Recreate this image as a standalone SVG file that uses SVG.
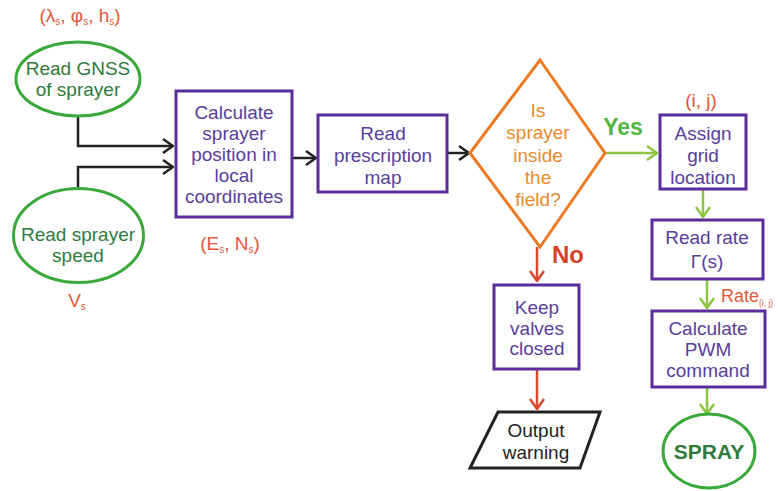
<svg xmlns="http://www.w3.org/2000/svg" width="778" height="491" viewBox="0 0 778 491">
<style>
text{font-family:"Liberation Sans",Arial,sans-serif;text-anchor:middle}
.node{font-size:19px}
.box{fill:none;stroke:#5b2d9a;stroke-width:3}
.boxt{fill:#5a3d9c}
.ell{fill:none;stroke:#3aa83a;stroke-width:3}
.ellt{fill:#2f7a3c}
.lab{fill:#e0593a;font-size:19px}
.blk{fill:none;stroke:#222;stroke-width:2.5}
.grn{fill:none;stroke:#8cc63f;stroke-width:2.5}
.red{fill:none;stroke:#d9482a;stroke-width:2.5}
</style>
<defs>
<marker id="ab" viewBox="0 0 12 16" refX="11" refY="8" markerWidth="12" markerHeight="16" markerUnits="userSpaceOnUse" orient="auto"><path d="M1,1 L11,8 L1,15" fill="none" stroke="#222" stroke-width="2.5"/></marker>
<marker id="ag" viewBox="0 0 12 16" refX="11" refY="8" markerWidth="12" markerHeight="16" markerUnits="userSpaceOnUse" orient="auto"><path d="M1,1 L11,8 L1,15" fill="none" stroke="#8cc63f" stroke-width="2.5"/></marker>
<marker id="ar" viewBox="0 0 12 16" refX="11" refY="8" markerWidth="12" markerHeight="16" markerUnits="userSpaceOnUse" orient="auto"><path d="M1,1 L11,8 L1,15" fill="none" stroke="#d9482a" stroke-width="2.5"/></marker>
</defs>
<rect width="778" height="491" fill="#fff"/>
<g id="connectors">
<path class="blk" d="M78,116 V146 H173" marker-end="url(#ab)"/>
<path class="blk" d="M78,188 V167 H173" marker-end="url(#ab)"/>
<path class="blk" d="M292,158 H316" marker-end="url(#ab)"/>
<path class="blk" d="M447,153 H469" marker-end="url(#ab)"/>
<path class="grn" d="M605,153 H657" marker-end="url(#ag)"/>
<path class="grn" d="M703,189 V217" marker-end="url(#ag)"/>
<path class="grn" d="M707,279 V308" marker-end="url(#ag)"/>
<path class="grn" d="M707,387 V414" marker-end="url(#ag)"/>
<path class="red" d="M537,247 V281" marker-end="url(#ar)"/>
<path class="red" d="M537,369 V409" marker-end="url(#ar)"/>
<text x="623" y="135" style="font-size:23px;font-weight:bold;fill:#52b540">Yes</text>
<text x="568" y="263" style="font-size:24px;font-weight:bold;fill:#d8402a">No</text>
</g>
<g id="gnss">
<ellipse class="ell" cx="78" cy="79" rx="62" ry="37"/>
<text class="node ellt" x="78" y="75">Read GNSS</text>
<text class="node ellt" x="78" y="96">of sprayer</text>
<text class="lab" x="80" y="22">(λ<tspan font-size="10" dy="3">s</tspan><tspan dy="-3">, φ</tspan><tspan font-size="10" dy="3">s</tspan><tspan dy="-3">, h</tspan><tspan font-size="10" dy="3">s</tspan><tspan dy="-3">)</tspan></text>
</g>
<g id="speed">
<ellipse class="ell" cx="78.5" cy="235.5" rx="65" ry="47"/>
<text class="node ellt" x="78" y="241">Read sprayer</text>
<text class="node ellt" x="78" y="262">speed</text>
<text class="lab" x="77" y="307">V<tspan font-size="10" dy="3">s</tspan></text>
</g>
<g id="calc">
<rect class="box" x="176" y="91" width="116" height="126"/>
<text class="node boxt" x="234" y="119">Calculate</text>
<text class="node boxt" x="234" y="140">sprayer</text>
<text class="node boxt" x="234" y="161">position in</text>
<text class="node boxt" x="234" y="182">local</text>
<text class="node boxt" x="234" y="203">coordinates</text>
<text class="lab" x="230" y="250">(E<tspan font-size="10" dy="3">s</tspan><tspan dy="-3">, N</tspan><tspan font-size="10" dy="3">s</tspan><tspan dy="-3">)</tspan></text>
</g>
<g id="prescription">
<rect class="box" x="318" y="115" width="129" height="77"/>
<text class="node boxt" x="383" y="140">Read</text>
<text class="node boxt" x="383" y="162">prescription</text>
<text class="node boxt" x="383" y="184">map</text>
</g>
<g id="decision">
<polygon points="540,60 605,153 540,247 470,153" fill="none" stroke="#ec7a22" stroke-width="3"/>
<text class="node" x="538" y="117" fill="#e8892e">Is</text>
<text class="node" x="538" y="139" fill="#e8892e">sprayer</text>
<text class="node" x="538" y="162" fill="#e8892e">inside</text>
<text class="node" x="538" y="184" fill="#e8892e">the</text>
<text class="node" x="538" y="206" fill="#e8892e">field?</text>
</g>
<g id="assign">
<rect class="box" x="660" y="115" width="86" height="74"/>
<text class="node boxt" x="703" y="140">Assign</text>
<text class="node boxt" x="703" y="162">grid</text>
<text class="node boxt" x="703" y="184">location</text>
<text class="lab" x="701" y="107">(i, j)</text>
</g>
<g id="readrate">
<rect class="box" x="652" y="220" width="111" height="59"/>
<text class="node boxt" x="707" y="244">Read rate</text>
<text class="node boxt" x="707" y="268">Γ(s)</text>
<text class="lab" x="721" y="302" style="text-anchor:start;font-size:18px">Rate<tspan font-size="8.5" dy="4">(i, j)</tspan></text>
</g>
<g id="pwm">
<rect class="box" x="652" y="311" width="113" height="76"/>
<text class="node boxt" x="708" y="335">Calculate</text>
<text class="node boxt" x="708" y="356">PWM</text>
<text class="node boxt" x="708" y="377">command</text>
</g>
<g id="spray">
<ellipse class="ell" cx="709" cy="451" rx="46" ry="37"/>
<text x="709" y="459" style="font-size:21px;font-weight:bold;fill:#2f7a3c">SPRAY</text>
</g>
<g id="keep">
<rect class="box" x="494" y="285" width="85" height="84"/>
<text class="node boxt" x="537" y="314">Keep</text>
<text class="node boxt" x="537" y="335">valves</text>
<text class="node boxt" x="537" y="355">closed</text>
</g>
<g id="output">
<polygon points="498,412 600,412 580,468 470,468" fill="none" stroke="#222" stroke-width="3"/>
<text class="node" x="536" y="437" fill="#222">Output</text>
<text class="node" x="536" y="459" fill="#222">warning</text>
</g>
</svg>
